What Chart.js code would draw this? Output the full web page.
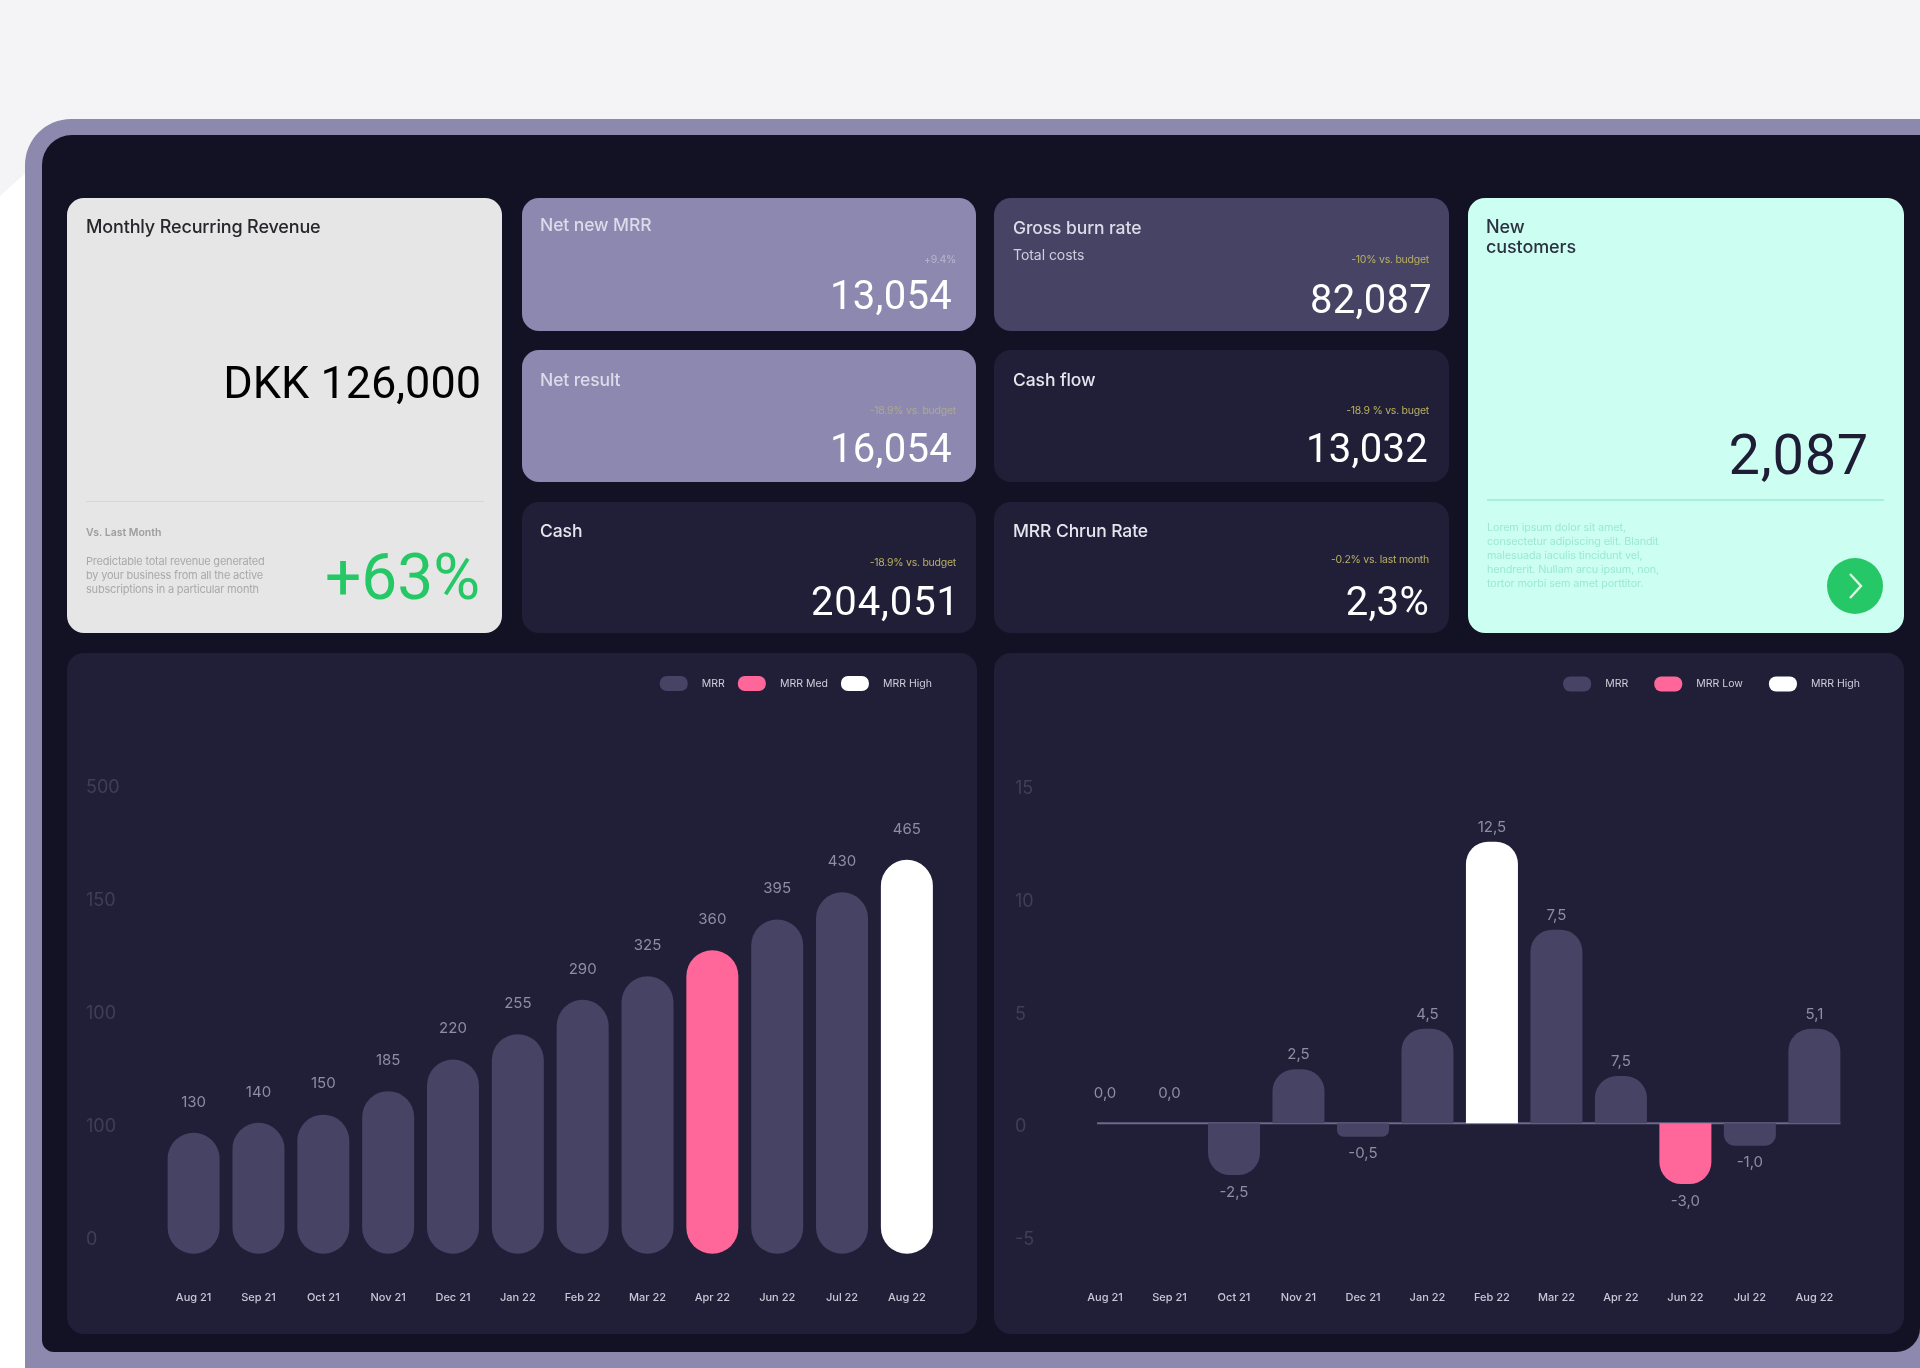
<!DOCTYPE html>
<html>
<head>
<meta charset="utf-8">
<title>MRR dashboard</title>
<script src="https://cdn.jsdelivr.net/npm/chart.js@4"></script>
<style>
html, body { margin: 0; padding: 0; }
body { width: 1920px; height: 1368px; overflow: hidden; position: relative; background: #f4f4f6; font-family: Inter, sans-serif; }
#white-bit { position: absolute; left: 0; top: 0; width: 60px; height: 1368px; background: #fff; clip-path: polygon(0 196px, 40px 160px, 40px 1368px, 0 1368px); }
#frame { position: absolute; left: 25px; top: 119px; width: 1960px; height: 1300px; background: #8c88ae; border-radius: 46px 0 0 30px; }
#inner { position: absolute; left: 42px; top: 135px; width: 1878px; height: 1217px; background: #131225; border-radius: 30px 0 24px 12px; }
.card { position: absolute; border-radius: 17px; filter: blur(0.5px); }
.card div, .t { position: absolute; white-space: nowrap; }
.label { font-size: 17.5px; line-height: 20px; color: #dddbe9; transform: translateY(-50%); font-weight: 500; letter-spacing: -0.1px; }
.delta { font-size: 10.5px; line-height: 12px; color: #b8b060; transform: translateY(-50%); letter-spacing: -0.25px; }
.num { font-family: Roboto, sans-serif; font-size: 40px; line-height: 44px; color: #fff; transform: translateY(-50%); letter-spacing: 0.3px; }
.chart-card { position: absolute; top: 653px; width: 910px; height: 681px; background: #211f38; border-radius: 17px; filter: blur(0.5px); }
</style>
</head>
<body>
<div id="white-bit"></div>
<div id="frame"></div>
<div id="inner"></div>

<!-- revenue card -->
<div class="card" style="left:67px;top:198px;width:435px;height:435px;background:#e6e6e7">
  <div style="left:19px;top:18px;font-size:18px;line-height:21px;font-weight:500;color:#27272b;letter-spacing:-0.15px">Monthly Recurring Revenue</div>
  <div style="right:21px;top:157px;font-family:Roboto,sans-serif;font-size:45px;line-height:56px;color:#000">DKK 126,000</div>
  <div style="left:19px;top:303px;width:398px;height:1px;background:#d6d6d7"></div>
  <div style="left:19px;top:328px;font-size:10.5px;line-height:14px;font-weight:600;color:#9d9d9f">Vs. Last Month</div>
  <div style="left:19px;top:356px;font-size:11px;line-height:14px;color:#a9a9ab;letter-spacing:-0.2px">Predictable total revenue generated<br>by your business from all the active<br>subscriptions in a particular month</div>
  <div style="right:22px;top:342px;font-family:Roboto,sans-serif;font-weight:400;font-size:64px;line-height:76px;color:#26c866">+63%</div>
</div>

<!-- small cards, second column -->
<div class="card" style="left:522px;top:198px;width:454px;height:133px;background:#8c88b0">
  <div class="label" style="left:18px;top:27px">Net new MRR</div>
  <div class="delta" style="right:20px;top:62px;color:#b9b6d0">+9.4%</div>
  <div class="num" style="right:24px;top:98px">13,054</div>
</div>
<div class="card" style="left:522px;top:350px;width:454px;height:132px;background:#8c88b0">
  <div class="label" style="left:18px;top:30px">Net result</div>
  <div class="delta" style="right:20px;top:61px;color:#aea98f">-18.9% vs. budget</div>
  <div class="num" style="right:24px;top:99px">16,054</div>
</div>
<div class="card" style="left:522px;top:502px;width:454px;height:131px;background:#211f38">
  <div class="label" style="left:18px;top:29px;color:#e6e5ee">Cash</div>
  <div class="delta" style="right:20px;top:61px">-18.9% vs. budget</div>
  <div class="num" style="right:16px;top:100px;letter-spacing:0.9px">204,051</div>
</div>

<!-- small cards, third column -->
<div class="card" style="left:994px;top:198px;width:455px;height:133px;background:#474364">
  <div class="label" style="left:19px;top:30px">Gross burn rate</div>
  <div class="t" style="left:19px;top:47px;font-size:14px;line-height:19px;color:#cfcdde;letter-spacing:-0.05px">Total costs</div>
  <div class="delta" style="right:20px;top:62px">-10% vs. budget</div>
  <div class="num" style="right:17px;top:102px">82,087</div>
</div>
<div class="card" style="left:994px;top:350px;width:455px;height:132px;background:#211f38">
  <div class="label" style="left:19px;top:30px;color:#e6e5ee">Cash flow</div>
  <div class="delta" style="right:20px;top:61px">-18.9 % vs. buget</div>
  <div class="num" style="right:21px;top:99px">13,032</div>
</div>
<div class="card" style="left:994px;top:502px;width:455px;height:131px;background:#211f38">
  <div class="label" style="left:19px;top:29px;color:#e6e5ee">MRR Chrun Rate</div>
  <div class="delta" style="right:20px;top:58px">-0.2% vs. last month</div>
  <div class="num" style="right:20px;top:100px">2,3%</div>
</div>

<!-- new customers card -->
<div class="card" style="left:1468px;top:198px;width:436px;height:435px;background:#ccfff2">
  <div style="left:18px;top:19px;font-size:18px;line-height:19.5px;font-weight:500;color:#2c3040;letter-spacing:-0.1px">New<br>customers</div>
  <div style="right:35px;top:223px;font-family:Roboto,sans-serif;font-size:56px;line-height:68px;color:#1f1d36;letter-spacing:0.7px">2,087</div>
  <div style="left:19px;top:301px;width:397px;height:2px;background:#a6f0dd"></div>
  <div style="left:19px;top:323px;font-size:10.8px;line-height:14px;color:#9ce8d5;letter-spacing:-0.1px">Lorem ipsum dolor sit amet,<br>consectetur adipiscing elit. Blandit<br>malesuada iaculis tincidunt vel,<br>hendrerit. Nullam arcu ipsum, non,<br>tortor morbi sem amet porttitor.</div>
  <div style="left:359px;top:360px;width:56px;height:56px;border-radius:50%;background:#26c766">
    <svg width="56" height="56" style="display:block"><path d="M23 16 L34 28 L23 40" fill="none" stroke="#dff5e6" stroke-width="2.4"/></svg>
  </div>
</div>

<div class="chart-card" style="left:67px"><canvas id="mrrChart"></canvas></div>
<div class="chart-card" style="left:994px"><canvas id="growthChart"></canvas></div>

<script>
const months = ["Aug 21", "Sep 21", "Oct 21", "Nov 21", "Dec 21", "Jan 22", "Feb 22", "Mar 22", "Apr 22", "Jun 22", "Jul 22", "Aug 22"];

// left chart: bar heights, the printed labels don't match them in the picture
const mrrHeights = [118, 129, 138, 164, 199, 227, 265, 291, 320, 354, 384, 420];
const mrrPrinted = ["130", "140", "150", "185", "220", "255", "290", "325", "360", "395", "430", "465"];
const mrrTickValues = [0, 125, 250, 375, 500];
const mrrTickLabels = ["0", "100", "100", "150", "500"];
const mrrLegend = ["MRR", "MRR Med", "MRR High"];

// right chart: same thing
const growthHeights = [0, 0, -2.3, 2.4, -0.6, 4.2, 12.5, 8.6, 2.1, -2.7, -1.0, 4.2];
const growthPrinted = ["0,0", "0,0", "-2,5", "2,5", "-0,5", "4,5", "12,5", "7,5", "7,5", "-3,0", "-1,0", "5,1"];
const growthTickValues = [-5, 0, 5, 10, 15];
const growthTickLabels = ["-5", "0", "5", "10", "15"];
const growthLegend = ["MRR", "MRR Low", "MRR High"];

const SLATE = "#474364";
const PINK = "#ff6699";
const WHITE = "#ffffff";
const legendColors = [SLATE, PINK, WHITE];

// picks the colour of each bar from who is highlighted
function barColors(pinkIndex, whiteIndex) {
    return months.map((m, i) => i === pinkIndex ? PINK : i === whiteIndex ? WHITE : SLATE);
}

function drawBars(id, cfg) {
    // printed number above or below a bar
    const valueLabels = {
        id: "valueLabels",
        afterDatasetsDraw(chart) {
            const ctx = chart.ctx;
            const bars = chart.getDatasetMeta(0).data;
            ctx.save();
            ctx.font = "15px Inter";
            ctx.fillStyle = "#8f8ca3";
            ctx.textAlign = "center";
            ctx.textBaseline = "middle";
            bars.forEach((bar, i) => {
                const v = cfg.rawValues[i];
                let y = bar.y - cfg.gapAbove;
                if (v < 0) y = bar.y + 17;
                if (v === 0) y = bar.y - 30;
                ctx.fillText(cfg.printed[i], bar.x, y);
            });
            ctx.restore();
        }
    };

    // the thin line at zero + moving the legend where it belongs
    const extras = {
        id: "extras",
        afterLayout(chart) {
            chart.legend.left += cfg.legendShift[0];
            chart.legend.right += cfg.legendShift[0];
            chart.legend.top += cfg.legendShift[1];
            chart.legend.bottom += cfg.legendShift[1];
        },
        beforeDatasetsDraw(chart) {
            if (!cfg.zeroLine) return;
            const bars = chart.getDatasetMeta(0).data;
            const y = chart.scales.y.getPixelForValue(0);
            const ctx = chart.ctx;
            ctx.save();
            ctx.strokeStyle = "#6b6888";
            ctx.lineWidth = 2;
            ctx.beginPath();
            ctx.moveTo(bars[0].x - 8, y);
            ctx.lineTo(bars[bars.length - 1].x + 26, y);
            ctx.stroke();
            ctx.restore();
        }
    };

    new Chart(document.getElementById(id), {
        type: "bar",
        data: {
            labels: months,
            datasets: [{
                data: cfg.values,
                backgroundColor: barColors(cfg.pinkIndex, cfg.whiteIndex),
                barThickness: 52,
                inflateAmount: 0,
                borderRadius: cfg.radius,
                borderSkipped: cfg.skipped
            }]
        },
        options: {
            responsive: true,
            maintainAspectRatio: false,
            animation: false,
            layout: { padding: { left: cfg.padLeft, right: cfg.padRight, top: 7, bottom: 0 } },
            plugins: {
                tooltip: { enabled: false },
                legend: {
                    position: "top",
                    align: "end",
                    onClick: null,
                    labels: {
                        boxWidth: 28,
                        boxHeight: 15,
                        padding: cfg.legendPadding,
                        useBorderRadius: true,
                        borderRadius: 7,
                        font: { family: "Inter", size: 10.5 },
                        color: "#cfcdd9",
                        generateLabels: () => cfg.legend.map((name, i) => ({
                            text: "\u00a0\u00a0\u00a0" + name,
                            fillStyle: legendColors[i],
                            strokeStyle: legendColors[i],
                            lineWidth: 0,
                            fontColor: "#cfcdd9",
                            borderRadius: 7
                        }))
                    }
                }
            },
            scales: {
                x: {
                    grid: { display: false, drawTicks: false },
                    border: { display: false },
                    afterFit: s => { s.height = 58.5; },
                    ticks: {
                        padding: 15.5,
                        maxRotation: 0,
                        autoSkip: false,
                        color: "#c9c7d5",
                        font: { family: "Inter", size: 11, weight: 500 }
                    }
                },
                y: {
                    min: cfg.min,
                    max: cfg.max,
                    grid: { display: false, drawTicks: false },
                    border: { display: false },
                    afterFit: s => { s.width = cfg.axisWidth; },
                    afterBuildTicks: s => { s.ticks = cfg.tickValues.map(v => ({ value: v })); },
                    ticks: {
                        crossAlign: "far",
                        labelOffset: cfg.tickOffset,
                        color: "#403d58",
                        font: { family: "Inter", size: 18 },
                        callback: (value, i) => cfg.tickLabels[i]
                    }
                }
            }
        },
        plugins: [valueLabels, extras]
    });
}

// left bars hang slightly under the zero tick, so they float from mrrBase
const mrrBase = -16;

drawBars("mrrChart", {
    values: mrrHeights.map(v => [mrrBase, v]),
    rawValues: mrrHeights,
    printed: mrrPrinted,
    tickValues: mrrTickValues,
    tickLabels: mrrTickLabels,
    legend: mrrLegend,
    pinkIndex: 8,
    whiteIndex: 11,
    radius: 26,
    skipped: false,
    min: -40,
    max: 599,
    padLeft: 19,
    padRight: 37.7,
    axisWidth: 75.2,
    tickOffset: 0,
    gapAbove: 30.7,
    legendPadding: 13,
    legendShift: [5.7, 3],
    zeroLine: false
});

drawBars("growthChart", {
    values: growthHeights,
    rawValues: growthHeights,
    printed: growthPrinted,
    tickValues: growthTickValues,
    tickLabels: growthTickLabels,
    legend: growthLegend,
    pinkIndex: 9,
    whiteIndex: 6,
    radius: 22,
    skipped: "start",
    min: -6.76,
    max: 18.31,
    padLeft: 21,
    padRight: 57.4,
    axisWidth: 57.8,
    tickOffset: 3.5,
    gapAbove: 14.6,
    legendPadding: 26,
    legendShift: [39.4, -9.5],
    zeroLine: true
});
</script>
</body>
</html>
